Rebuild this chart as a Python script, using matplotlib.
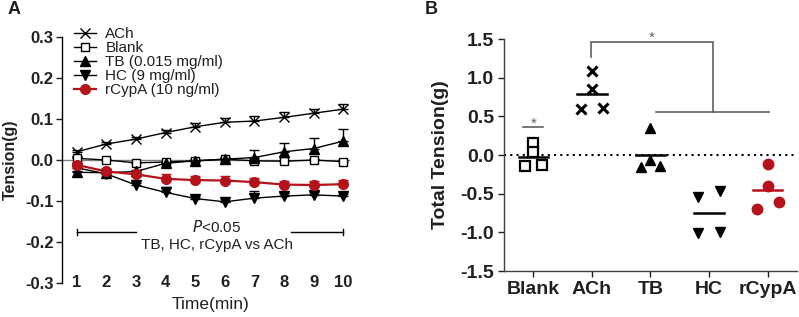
import numpy as np
import matplotlib
matplotlib.use("Agg")
import matplotlib.pyplot as plt

plt.rcParams['font.family'] = ['Liberation Sans', 'DejaVu Sans']
TXT = '#231f20'
RED = '#b5121b'
plt.rcParams['text.color'] = TXT
plt.rcParams['axes.labelcolor'] = TXT
plt.rcParams['xtick.color'] = TXT
plt.rcParams['ytick.color'] = TXT

# ---------------- Panel A data ----------------
time_min = [1, 2, 3, 4, 5, 6, 7, 8, 9, 10]
ach = [0.020, 0.039, 0.051, 0.067, 0.081, 0.092, 0.095, 0.104, 0.114, 0.124]
ach_err = [0.005, 0.004, 0.005, 0.005, 0.010, 0.011, 0.012, 0.013, 0.011, 0.013]
blank = [0.004, 0.000, -0.007, -0.005, -0.002, 0.002, -0.002, -0.003, 0.000, -0.004]
blank_err = [0.003, 0.002, 0.003, 0.003, 0.003, 0.003, 0.003, 0.003, 0.003, 0.003]
tb = [-0.030, -0.031, -0.028, -0.008, -0.002, 0.002, 0.006, 0.020, 0.028, 0.046]
tb_err = [0.003, 0.003, 0.004, 0.003, 0.005, 0.006, 0.019, 0.021, 0.026, 0.030]
hc = [-0.019, -0.034, -0.061, -0.079, -0.094, -0.102, -0.093, -0.088, -0.085, -0.088]
hc_err = [0.004, 0.003, 0.006, 0.014, 0.004, 0.003, 0.018, 0.008, 0.006, 0.006]
rcypa = [-0.012, -0.028, -0.035, -0.046, -0.049, -0.050, -0.054, -0.060, -0.061, -0.059]
rcypa_err = [0.005, 0.005, 0.008, 0.012, 0.010, 0.010, 0.010, 0.010, 0.010, 0.010]
legend_labels = ['ACh', 'Blank', 'TB (0.015 mg/ml)', 'HC (9 mg/ml)', 'rCypA (10 ng/ml)']

# ---------------- Panel B data ----------------
groups = ['Blank', 'ACh', 'TB', 'HC', 'rCypA']
blank_pts = [0.15, 0.04, -0.14, -0.13]
ach_pts = [1.09, 0.85, 0.59, 0.61]
tb_pts = [0.35, -0.15, -0.07, -0.14]
hc_pts = [-0.54, -0.46, -1.01, -0.99]
rcypa_pts = [-0.12, -0.40, -0.70, -0.61]
jitter = [[0, 0, -0.15, 0.15], [0, 0, -0.19, 0.19], [0, -0.17, 0, 0.17],
          [-0.19, 0.19, -0.19, 0.19], [0, 0, -0.19, 0.19]]

W, H = 799, 317
fig = plt.figure(figsize=(W / 100, H / 100), dpi=100)

# ================= Panel A =================
axA = fig.add_axes([62 / W, 1 - 283 / H, (358 - 62) / W, (283 - 37) / H])
axA.set_xlim(0.5, 10.5)
axA.set_ylim(-0.3, 0.3)
axA.axhline(0, color='#808080', lw=1.0, xmin=0, xmax=(10.2 - 0.5) / 10, zorder=1)

series = [
    (ach, ach_err, dict(marker='x', ms=7, mfc='none', mec='black', mew=1.0, color='black', lw=1.0)),
    (blank, blank_err, dict(marker='s', ms=6, mfc='white', mec='black', mew=1.0, color='black', lw=1.0)),
    (tb, tb_err, dict(marker='^', ms=6.5, mfc='black', mec='black', color='black', lw=1.0)),
    (hc, hc_err, dict(marker='v', ms=6.5, mfc='black', mec='black', color='black', lw=1.0)),
    (rcypa, rcypa_err, dict(marker='o', ms=7, mfc=RED, mec=RED, color=RED, lw=1.6)),
]
handles = []
for vals, err, st in series:
    ecol = st['color']
    axA.errorbar(time_min, vals, yerr=[np.zeros(len(vals)), err], fmt='none',
                 ecolor=ecol, elinewidth=1.0, capsize=3.5, capthick=1.0, zorder=3)
    ln, = axA.plot(time_min, vals, zorder=4, clip_on=False, **st)
    handles.append(ln)

for s in ['top', 'right', 'bottom']:
    axA.spines[s].set_visible(False)
axA.spines['left'].set_linewidth(1.0)
axA.set_yticks([-0.3, -0.2, -0.1, 0.0, 0.1, 0.2, 0.3])
axA.set_yticklabels(['-0.3', '-0.2', '-0.1', '0.0', '0.1', '0.2', '0.3'])
axA.set_xticks(time_min)
axA.set_xticklabels([str(t) for t in time_min])
axA.tick_params(axis='y', length=4, width=1.0, labelsize=12, pad=2)
axA.tick_params(axis='x', length=0, labelsize=12, pad=-6)
for lab in axA.get_xticklabels() + axA.get_yticklabels():
    lab.set_fontweight('bold')
axA.set_xlabel('Time(min)', fontsize=12.5, labelpad=5)
axA.set_ylabel('Tension(g)', fontsize=11.5, fontweight='bold', labelpad=5)

# significance annotation
axA.plot([1, 3.0], [-0.175, -0.175], color='black', lw=1.0)
axA.plot([8.25, 10], [-0.175, -0.175], color='black', lw=1.0)
axA.plot([1, 1], [-0.182, -0.168], color='black', lw=1.0)
axA.plot([10, 10], [-0.182, -0.168], color='black', lw=1.0)
axA.text(5.72, -0.163, r'$\mathit{P}$<0.05', ha='center', va='center', fontsize=11)
axA.text(5.72, -0.208, 'TB, HC, rCypA vs ACh', ha='center', va='center', fontsize=11)

leg = axA.legend(handles, legend_labels, loc='upper left',
                 bbox_to_anchor=(74 / W, 1 - 27 / H), bbox_transform=fig.transFigure,
                 frameon=False, fontsize=11, handlelength=1.45, handletextpad=0.6,
                 labelspacing=0.0, borderpad=0, borderaxespad=0)

fig.text(8 / W, 1 - 10 / H, 'A', fontsize=13, fontweight='bold', va='center', ha='left')

# ================= Panel B =================
axB = fig.add_axes([504 / W, 1 - 271 / H, (797 - 504) / W, (271 - 39) / H])
axB.set_xlim(-0.5, 4.5)
axB.set_ylim(-1.5, 1.5)
axB.axhline(0, color='black', lw=1.5, ls=(0, (1, 2)), zorder=1)

pts_all = [blank_pts, ach_pts, tb_pts, hc_pts, rcypa_pts]
styles = [
    dict(marker='s', ms=6.5, mfc='white', mec='black', mew=1.6),
    dict(marker='x', ms=7, mec='black', mew=2.2),
    dict(marker='^', ms=7.5, mfc='black', mec='black'),
    dict(marker='v', ms=7.5, mfc='black', mec='black'),
    dict(marker='o', ms=7.5, mfc=RED, mec=RED),
]
mean_cols = ['black', 'black', 'black', 'black', RED]
for i, (pts, st) in enumerate(zip(pts_all, styles)):
    xs = [i + j for j in jitter[i]]
    axB.plot(xs, pts, ls='none', zorder=3, **st)
    m = np.mean(pts)
    axB.plot([i - 0.25, i + 0.25], [m, m], color=mean_cols[i], lw=1.8, zorder=4)

GR = '#606060'
axB.plot([-0.17, 0.17], [0.36, 0.36], color=GR, lw=1.2)
axB.text(0, 0.41, '*', ha='center', va='center', fontsize=11, color=GR)
axB.plot([0.99, 0.99, 3.06, 3.06], [1.27, 1.455, 1.455, 0.55], color=GR, lw=1.2)
axB.plot([2.1, 4.02], [0.55, 0.55], color=GR, lw=1.2)
axB.text(2.02, 1.51, '*', ha='center', va='center', fontsize=11, color=GR)

for s in ['top', 'right']:
    axB.spines[s].set_visible(False)
for s in ['left', 'bottom']:
    axB.spines[s].set_linewidth(1.0)
    axB.spines[s].set_color('#404040')
axB.set_yticks([-1.5, -1.0, -0.5, 0.0, 0.5, 1.0, 1.5])
axB.set_yticklabels(['-1.5', '-1.0', '-0.5', '0.0', '0.5', '1.0', '1.5'])
axB.set_xticks(range(len(groups)))
axB.set_xticklabels(groups)
axB.tick_params(axis='both', length=4, width=1.0, labelsize=14, pad=3)
for lab in axB.get_xticklabels() + axB.get_yticklabels():
    lab.set_fontweight('bold')
axB.set_ylabel('Total Tension(g)', fontsize=14, fontweight='bold', labelpad=8)

fig.text(425 / W, 1 - 10 / H, 'B', fontsize=13, fontweight='bold', va='center', ha='left')

fig.savefig('out.png', dpi=100)
